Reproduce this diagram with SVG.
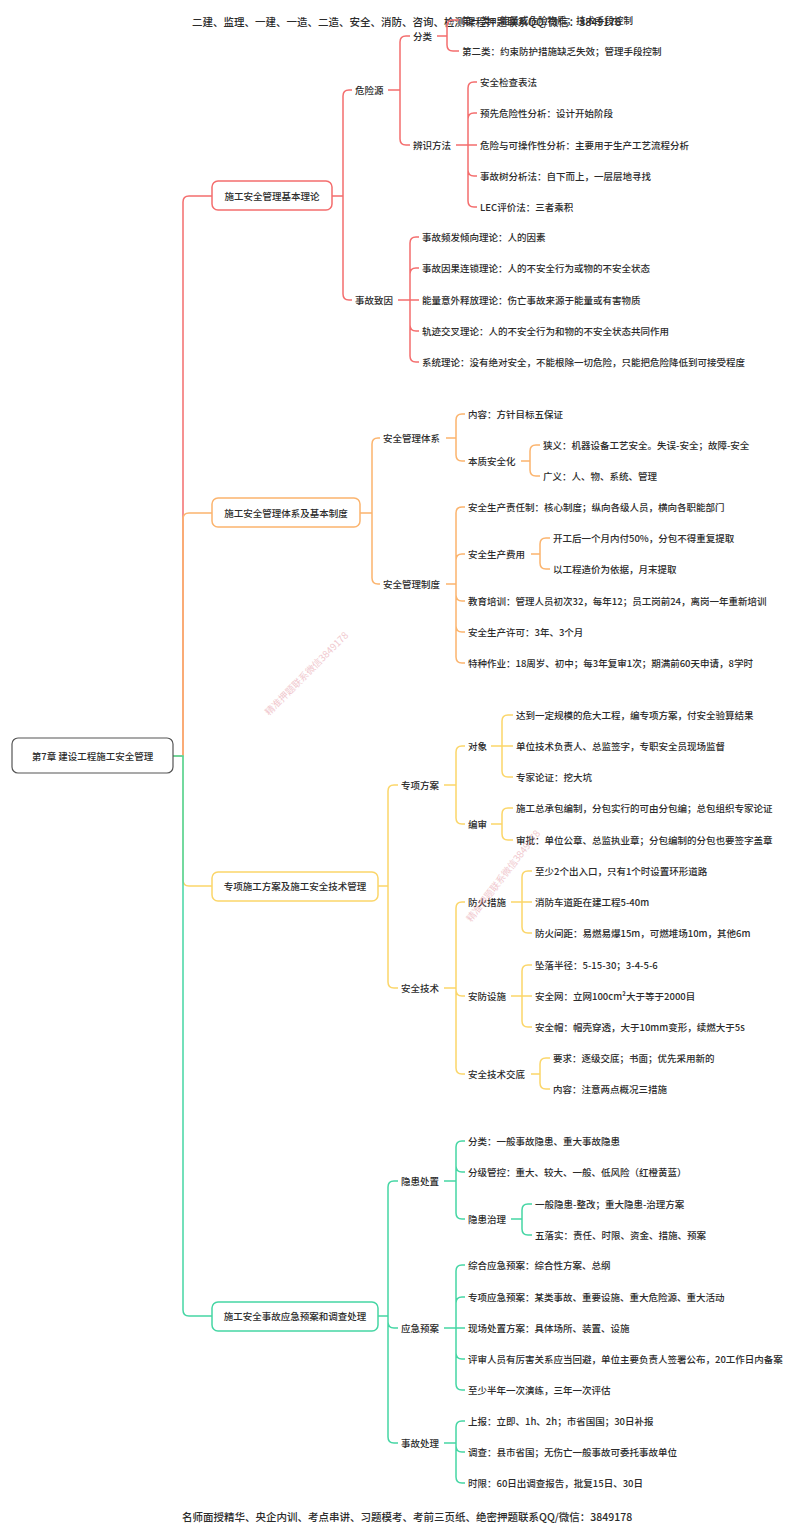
<svg xmlns="http://www.w3.org/2000/svg" width="800" height="1533" viewBox="0 0 800 1533">
<style>
.t{font-family:"Noto Sans CJK SC","Noto Sans",sans-serif;font-size:9.5px;font-weight:500;fill:#2b2b2b;dominant-baseline:central}
.hf{font-size:10.5px}
.c{text-anchor:middle}
.box{fill:#fff;stroke-width:1.5}
.l{fill:none;stroke-width:1.5}
.red{stroke:#f46d6d}.org{stroke:#fbb46e}.yel{stroke:#fbd66a}.grn{stroke:#45d6a4}
.wm{font-family:"Noto Sans CJK SC",sans-serif;font-size:9.5px;fill:#e59aa6;opacity:0.55}
</style>
<rect width="800" height="1533" fill="#fff"/>
<text class="t hf" x="192" y="21">二建、监理、一建、一造、二造、安全、消防、咨询、检测课程押题联系QQ/微信：3849178</text>
<g id="connectors">
<path class="l red" d="M173,756 H183 V202 Q183,196 189,196 H212 M332,196 H343 V96 Q343,90 349,90 H352 M332,196 H343 V294 Q343,300 349,300 H352 M388,90 H400 V42 Q400,36 406,36 H410 M388,90 H400 V139 Q400,145 406,145 H410 M437,36 H447 V26 Q447,20 453,20 H459 M437,36 H447 V45 Q447,51 453,51 H459 M456,145 H468 V88 Q468,82 474,82 H477 M456,145 H468 V119 Q468,113 474,113 H477 M456,145 H477 M456,145 H468 V170 Q468,176 474,176 H477 M456,145 H468 V201 Q468,207 474,207 H477 M398,300 H410 V243 Q410,237 416,237 H419 M398,300 H410 V274 Q410,268 416,268 H419 M398,300 H419 M398,300 H410 V325 Q410,331 416,331 H419 M398,300 H410 V356 Q410,362 416,362 H419"/>
<path class="l org" d="M173,756 H183 V519 Q183,513 189,513 H212 M360,513 H372 V444 Q372,438 378,438 H380 M360,513 H372 V578 Q372,584 378,584 H380 M446,438 H456 V420 Q456,414 462,414 H465 M446,438 H456 V455 Q456,461 462,461 H465 M521,461 H530 V451 Q530,445 536,445 H540 M521,461 H530 V470 Q530,476 536,476 H540 M446,584 H456 V513 Q456,507 462,507 H465 M446,584 H456 V560 Q456,554 462,554 H465 M446,584 H456 V595 Q456,601 462,601 H465 M446,584 H456 V626 Q456,632 462,632 H465 M446,584 H456 V657 Q456,663 462,663 H465 M531,554 H540 V544 Q540,538 546,538 H550 M531,554 H540 V563 Q540,569 546,569 H550"/>
<path class="l yel" d="M173,756 H183 V880 Q183,886 189,886 H212 M378,886 H388 V791 Q388,785 394,785 H398 M378,886 H388 V982 Q388,988 394,988 H398 M444,785 H456 V752 Q456,746 462,746 H465 M444,785 H456 V818 Q456,824 462,824 H465 M491,746 H502 V721 Q502,715 508,715 H513 M491,746 H513 M491,746 H502 V771 Q502,777 508,777 H513 M491,824 H502 V814 Q502,808 508,808 H513 M491,824 H502 V834 Q502,840 508,840 H513 M444,988 H456 V908 Q456,902 462,902 H465 M444,988 H456 V990 Q456,996 462,996 H465 M444,988 H456 V1068 Q456,1074 462,1074 H465 M511,902 H522 V877 Q522,871 528,871 H532 M511,902 H532 M511,902 H522 V927 Q522,933 528,933 H532 M511,996 H522 V971 Q522,965 528,965 H532 M511,996 H532 M511,996 H522 V1021 Q522,1027 528,1027 H532 M531,1074 H540 V1064 Q540,1058 546,1058 H550 M531,1074 H540 V1083 Q540,1089 546,1089 H550"/>
<path class="l grn" d="M173,756 H183 V1310 Q183,1316 189,1316 H212 M378,1316 H388 V1187 Q388,1181 394,1181 H398 M378,1316 H388 V1322 Q388,1328 394,1328 H398 M378,1316 H388 V1437 Q388,1443 394,1443 H398 M444,1181 H456 V1147 Q456,1141 462,1141 H465 M444,1181 H456 V1166 Q456,1172 462,1172 H465 M444,1181 H456 V1213 Q456,1219 462,1219 H465 M511,1219 H522 V1210 Q522,1204 528,1204 H532 M511,1219 H522 V1229 Q522,1235 528,1235 H532 M444,1328 H456 V1271 Q456,1265 462,1265 H465 M444,1328 H456 V1303 Q456,1297 462,1297 H465 M444,1328 H465 M444,1328 H456 V1353 Q456,1359 462,1359 H465 M444,1328 H456 V1384 Q456,1390 462,1390 H465 M444,1443 H456 V1427 Q456,1421 462,1421 H465 M444,1443 H456 V1446 Q456,1452 462,1452 H465 M444,1443 H456 V1477 Q456,1483 462,1483 H465"/>
</g>
<g id="root"><rect x="12" y="738" width="161" height="35" rx="6" fill="#fff" stroke="#555" stroke-width="1.2"/><text class="t c" x="92.5" y="756">第7章 建设工程施工安全管理</text></g>
<g id="n1"><rect class="box red" x="212" y="181" width="120" height="29" rx="6"/><text class="t c" x="272" y="196">施工安全管理基本理论</text></g>
<g id="n1-1"><text class="t" x="355" y="90">危险源</text></g>
<g id="n1-1-1"><text class="t" x="413" y="36">分类</text></g>
<g id="n1-1-1-1"><text class="t" x="462" y="20">第一类：能量或危险物质；技术手段控制</text></g>
<g id="n1-1-1-2"><text class="t" x="462" y="51">第二类：约束防护措施缺乏失效；管理手段控制</text></g>
<g id="n1-1-2"><text class="t" x="413" y="145">辨识方法</text></g>
<g id="n1-1-2-1"><text class="t" x="480" y="82">安全检查表法</text></g>
<g id="n1-1-2-2"><text class="t" x="480" y="113">预先危险性分析：设计开始阶段</text></g>
<g id="n1-1-2-3"><text class="t" x="480" y="145">危险与可操作性分析：主要用于生产工艺流程分析</text></g>
<g id="n1-1-2-4"><text class="t" x="480" y="176">事故树分析法：自下而上，一层层地寻找</text></g>
<g id="n1-1-2-5"><text class="t" x="480" y="207">LEC评价法：三者乘积</text></g>
<g id="n1-2"><text class="t" x="355" y="300">事故致因</text></g>
<g id="n1-2-1"><text class="t" x="422" y="237">事故频发倾向理论：人的因素</text></g>
<g id="n1-2-2"><text class="t" x="422" y="268">事故因果连锁理论：人的不安全行为或物的不安全状态</text></g>
<g id="n1-2-3"><text class="t" x="422" y="300">能量意外释放理论：伤亡事故来源于能量或有害物质</text></g>
<g id="n1-2-4"><text class="t" x="422" y="331">轨迹交叉理论：人的不安全行为和物的不安全状态共同作用</text></g>
<g id="n1-2-5"><text class="t" x="422" y="362">系统理论：没有绝对安全，不能根除一切危险，只能把危险降低到可接受程度</text></g>
<g id="n2"><rect class="box org" x="212" y="498" width="148" height="29" rx="6"/><text class="t c" x="286" y="513">施工安全管理体系及基本制度</text></g>
<g id="n2-1"><text class="t" x="383" y="438">安全管理体系</text></g>
<g id="n2-1-1"><text class="t" x="468" y="414">内容：方针目标五保证</text></g>
<g id="n2-1-2"><text class="t" x="468" y="461">本质安全化</text></g>
<g id="n2-1-2-1"><text class="t" x="543" y="445">狭义：机器设备工艺安全。失误-安全；故障-安全</text></g>
<g id="n2-1-2-2"><text class="t" x="543" y="476">广义：人、物、系统、管理</text></g>
<g id="n2-2"><text class="t" x="383" y="584">安全管理制度</text></g>
<g id="n2-2-1"><text class="t" x="468" y="507">安全生产责任制：核心制度；纵向各级人员，横向各职能部门</text></g>
<g id="n2-2-2"><text class="t" x="468" y="554">安全生产费用</text></g>
<g id="n2-2-2-1"><text class="t" x="553" y="538">开工后一个月内付50%，分包不得重复提取</text></g>
<g id="n2-2-2-2"><text class="t" x="553" y="569">以工程造价为依据，月末提取</text></g>
<g id="n2-2-3"><text class="t" x="468" y="601">教育培训：管理人员初次32，每年12；员工岗前24，离岗一年重新培训</text></g>
<g id="n2-2-4"><text class="t" x="468" y="632">安全生产许可：3年、3个月</text></g>
<g id="n2-2-5"><text class="t" x="468" y="663">特种作业：18周岁、初中；每3年复审1次；期满前60天申请，8学时</text></g>
<g id="n3"><rect class="box yel" x="212" y="872" width="166" height="29" rx="6"/><text class="t c" x="295" y="886">专项施工方案及施工安全技术管理</text></g>
<g id="n3-1"><text class="t" x="401" y="785">专项方案</text></g>
<g id="n3-1-1"><text class="t" x="468" y="746">对象</text></g>
<g id="n3-1-1-1"><text class="t" x="516" y="715">达到一定规模的危大工程，编专项方案，付安全验算结果</text></g>
<g id="n3-1-1-2"><text class="t" x="516" y="746">单位技术负责人、总监签字，专职安全员现场监督</text></g>
<g id="n3-1-1-3"><text class="t" x="516" y="777">专家论证：挖大坑</text></g>
<g id="n3-1-2"><text class="t" x="468" y="824">编审</text></g>
<g id="n3-1-2-1"><text class="t" x="516" y="808">施工总承包编制，分包实行的可由分包编；总包组织专家论证</text></g>
<g id="n3-1-2-2"><text class="t" x="516" y="840">审批：单位公章、总监执业章；分包编制的分包也要签字盖章</text></g>
<g id="n3-2"><text class="t" x="401" y="988">安全技术</text></g>
<g id="n3-2-1"><text class="t" x="468" y="902">防火措施</text></g>
<g id="n3-2-1-1"><text class="t" x="535" y="871">至少2个出入口，只有1个时设置环形道路</text></g>
<g id="n3-2-1-2"><text class="t" x="535" y="902">消防车道距在建工程5-40m</text></g>
<g id="n3-2-1-3"><text class="t" x="535" y="933">防火间距：易燃易爆15m，可燃堆场10m，其他6m</text></g>
<g id="n3-2-2"><text class="t" x="468" y="996">安防设施</text></g>
<g id="n3-2-2-1"><text class="t" x="535" y="965">坠落半径：5-15-30；3-4-5-6</text></g>
<g id="n3-2-2-2"><text class="t" x="535" y="996">安全网：立网100cm²大于等于2000目</text></g>
<g id="n3-2-2-3"><text class="t" x="535" y="1027">安全帽：帽壳穿透，大于10mm变形，续燃大于5s</text></g>
<g id="n3-2-3"><text class="t" x="468" y="1074">安全技术交底</text></g>
<g id="n3-2-3-1"><text class="t" x="553" y="1058">要求：逐级交底；书面；优先采用新的</text></g>
<g id="n3-2-3-2"><text class="t" x="553" y="1089">内容：注意两点概况三措施</text></g>
<g id="n4"><rect class="box grn" x="212" y="1302" width="166" height="29" rx="6"/><text class="t c" x="295" y="1316">施工安全事故应急预案和调查处理</text></g>
<g id="n4-1"><text class="t" x="401" y="1181">隐患处置</text></g>
<g id="n4-1-1"><text class="t" x="468" y="1141">分类：一般事故隐患、重大事故隐患</text></g>
<g id="n4-1-2"><text class="t" x="468" y="1172">分级管控：重大、较大、一般、低风险（红橙黄蓝）</text></g>
<g id="n4-1-3"><text class="t" x="468" y="1219">隐患治理</text></g>
<g id="n4-1-3-1"><text class="t" x="535" y="1204">一般隐患-整改；重大隐患-治理方案</text></g>
<g id="n4-1-3-2"><text class="t" x="535" y="1235">五落实：责任、时限、资金、措施、预案</text></g>
<g id="n4-2"><text class="t" x="401" y="1328">应急预案</text></g>
<g id="n4-2-1"><text class="t" x="468" y="1265">综合应急预案：综合性方案、总纲</text></g>
<g id="n4-2-2"><text class="t" x="468" y="1297">专项应急预案：某类事故、重要设施、重大危险源、重大活动</text></g>
<g id="n4-2-3"><text class="t" x="468" y="1328">现场处置方案：具体场所、装置、设施</text></g>
<g id="n4-2-4"><text class="t" x="468" y="1359">评审人员有厉害关系应当回避，单位主要负责人签署公布，20工作日内备案</text></g>
<g id="n4-2-5"><text class="t" x="468" y="1390">至少半年一次演练，三年一次评估</text></g>
<g id="n4-3"><text class="t" x="401" y="1443">事故处理</text></g>
<g id="n4-3-1"><text class="t" x="468" y="1421">上报：立即、1h、2h；市省国国；30日补报</text></g>
<g id="n4-3-2"><text class="t" x="468" y="1452">调查：县市省国；无伤亡一般事故可委托事故单位</text></g>
<g id="n4-3-3"><text class="t" x="468" y="1483">时限：60日出调查报告，批复15日、30日</text></g>
<text class="t hf" x="182" y="1516">名师面授精华、央企内训、考点串讲、习题模考、考前三页纸、绝密押题联系QQ/微信：3849178</text>
<text class="wm" x="0" y="0" text-anchor="middle" transform="translate(309,676) rotate(-45)">精准押题联系微信3849178</text>
<text class="wm" x="0" y="0" text-anchor="middle" transform="translate(506,878) rotate(-52)">精准押题联系微信3849178</text>
</svg>
